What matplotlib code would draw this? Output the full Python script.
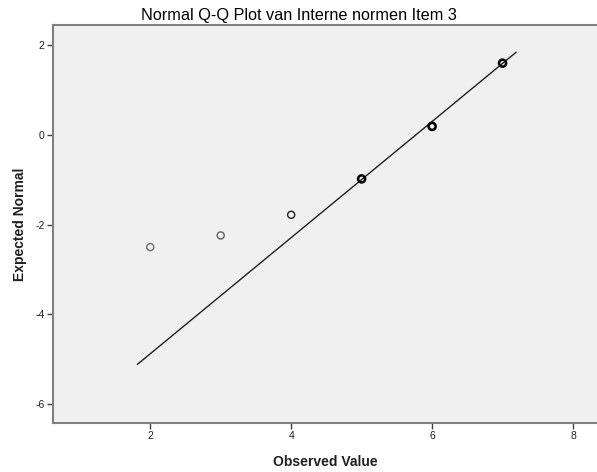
import matplotlib.pyplot as plt

# observed values and their expected normal quantiles
observed = [2, 3, 4, 5, 6, 7]
expected = [-2.50, -2.24, -1.78, -0.98, 0.19, 1.60]
point_colors = ["#707070", "#606060", "#202020", "#000000", "#000000", "#000000"]

# reference line end points
line_x = [1.82, 7.19]
line_y = [-5.11, 1.84]

plt.rcParams["font.family"] = ["Liberation Sans", "DejaVu Sans"]
plt.rcParams["axes.unicode_minus"] = False

fig = plt.figure(figsize=(5.97, 4.72), dpi=100)
ax = fig.add_axes([53 / 597, 49 / 472, 544 / 597, 398 / 472])
ax.set_facecolor("#f0f0f0")

ax.plot(line_x, line_y, color="#202020", linewidth=1.0, zorder=2)
for x, y, c in zip(observed, expected, point_colors):
    lw = 1.0 if c != "#000000" else 1.8
    ax.scatter(x, y, s=26, facecolors="none", edgecolors=c, linewidths=lw, zorder=3)

ax.set_xlim(0.62, 8.34)
ax.set_ylim(-6.42, 2.45)
ax.set_xticks([2, 4, 6, 8])
ax.set_yticks([-6, -4, -2, 0, 2])

for side in ["top", "left", "bottom"]:
    ax.spines[side].set_color("#808080")
    ax.spines[side].set_linewidth(1.5)
ax.spines["right"].set_visible(False)
ax.tick_params(direction="out", length=4, width=1, color="#404040",
               labelsize=7.5, labelcolor="#202020", pad=2)

# title is centred on the whole picture, not on the axes
fig.text(0.5, 1 - 20 / 472, "Normal Q-Q Plot van Interne normen Item 3", fontsize=11.7,
         color="#000000", ha="center", va="baseline")
ax.set_xlabel("Observed Value", fontsize=10, fontweight="bold", color="#202020", labelpad=10)
ax.set_ylabel("Expected Normal", fontsize=10, fontweight="bold", color="#202020", labelpad=6)

plt.savefig("out.png", dpi=100)
